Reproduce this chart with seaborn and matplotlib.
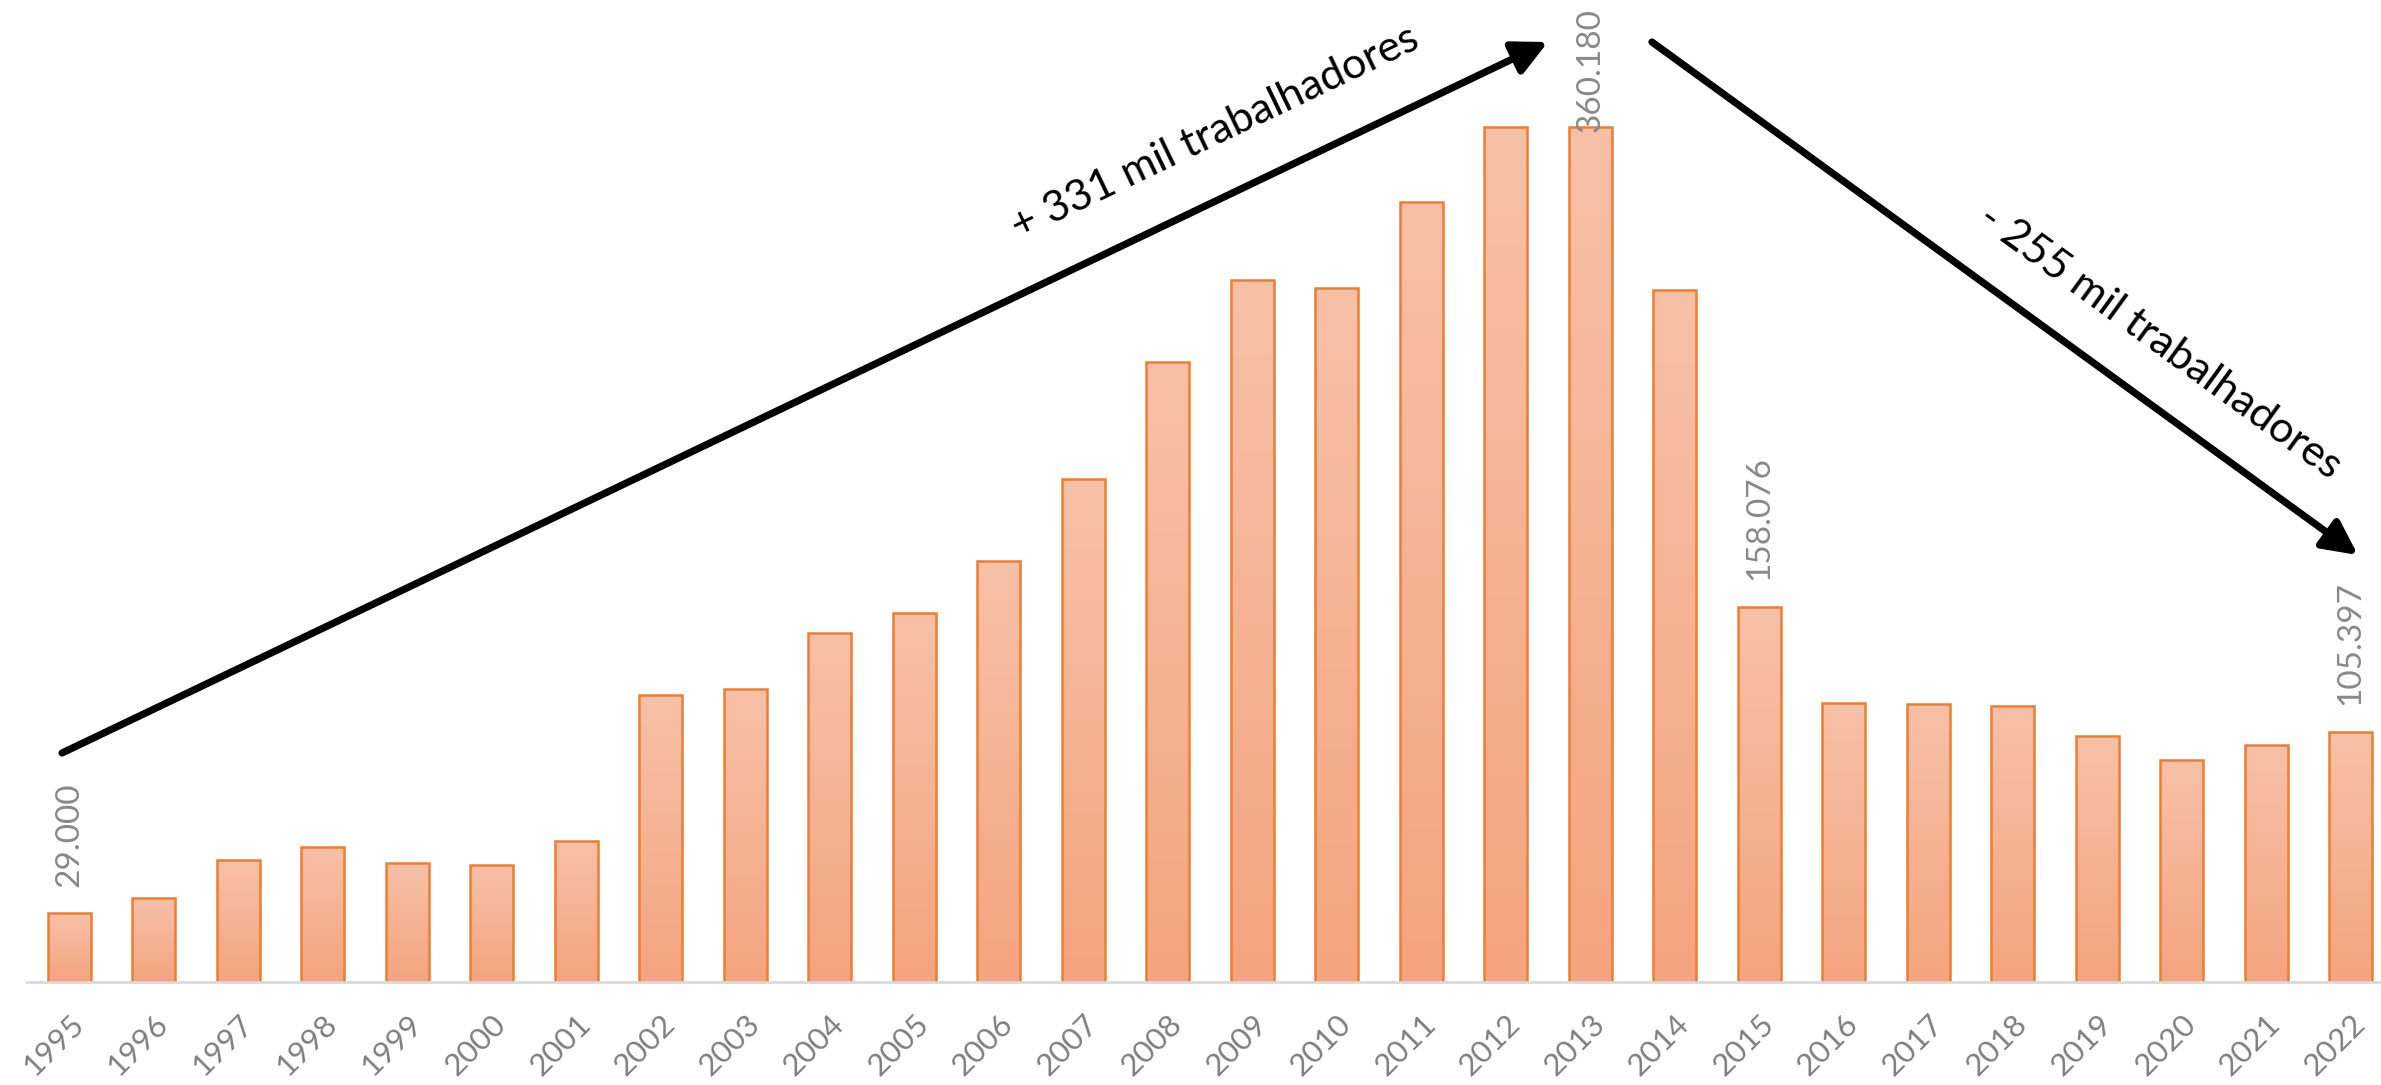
import matplotlib
matplotlib.use('Agg')
import matplotlib.pyplot as plt
from matplotlib.colors import LinearSegmentedColormap
import numpy as np
import pandas as pd
import seaborn as sns

# values
years = [1995, 1996, 1997, 1998, 1999, 2000, 2001, 2002, 2003, 2004,
         2005, 2006, 2007, 2008, 2009, 2010, 2011, 2012, 2013, 2014,
         2015, 2016, 2017, 2018, 2019, 2020, 2021, 2022]
workers = [29000, 35300, 51300, 57000, 50000, 49300, 59500, 120900, 123500, 147100,
           155500, 177200, 211800, 261000, 295600, 292400, 328800, 360400, 360180, 291700,
           158076, 117700, 117100, 116400, 103600, 93400, 99800, 105397]
labelled_years = [1995, 2013, 2015, 2022]
peak_year = 2013
up_text = '+ 331 mil trabalhadores'
down_text = '- 255 mil trabalhadores'

sns.set_style('white')
plt.rcParams['font.family'] = ['Lato', 'DejaVu Sans']

df = pd.DataFrame({'ano': [str(y) for y in years], 'trabalhadores': workers})

fig = plt.figure(figsize=(23.81, 10.85), dpi=100)
ax = fig.add_axes([27 / 2381, 103 / 1085, 1 - 27 / 2381, 982 / 1085])

sns.barplot(data=df, x='ano', y='trabalhadores', color='#F5B08F',
            width=0.51, edgecolor='#ED7D31', linewidth=1.8, ax=ax)

# vertical gradient inside each bar, like the Excel fill
grad_cmap = LinearSegmentedColormap.from_list('grad', ['#F4A47F', '#F7C1A8'])
grad = np.linspace(0, 1, 256).reshape(-1, 1)
for p in ax.patches:
    x0, w, h = p.get_x(), p.get_width(), p.get_height()
    im = ax.imshow(grad, extent=[x0, x0 + w, 0, h], origin='lower',
                   aspect='auto', cmap=grad_cmap, zorder=p.get_zorder() - 0.1)
    im.set_clip_path(p)
    p.set_facecolor('none')

ax.set_xlim(-0.5, 27.36)
ax.set_ylim(0, 413700)

# value labels on selected bars
for i, (yr, v) in enumerate(zip(years, workers)):
    if yr in labelled_years:
        off = -3.6 if yr == peak_year else 19
        ax.annotate(f'{v:,}'.replace(',', '.'), xy=(i, v), xytext=(0, off),
                    textcoords='offset points', rotation=90, ha='center',
                    va='bottom', fontsize=24, color='#898989')

# trend arrows and captions
arrow = dict(arrowstyle='-|>', lw=5.2, color='black', mutation_scale=52,
             shrinkA=0, shrinkB=0)
ax.annotate('', xy=(0.6461, 0.9572), xytext=(0.0149, 0.2332),
            xycoords='axes fraction', arrowprops=arrow)
ax.annotate('', xy=(0.9902, 0.4348), xytext=(0.6903, 0.9572),
            xycoords='axes fraction', arrowprops=arrow)
ax.text(0.5047, 0.8646, up_text, transform=ax.transAxes, rotation=25.6,
        rotation_mode='anchor', ha='center', va='center', fontsize=31, color='black')
ax.text(0.9061, 0.6517, down_text, transform=ax.transAxes, rotation=-36,
        rotation_mode='anchor', ha='center', va='center', fontsize=31, color='black')

ax.set_xlabel('')
ax.set_ylabel('')
ax.set_yticks([])
ax.tick_params(axis='x', length=0, pad=20, labelsize=22.5, labelcolor='#7F7F7F')
for lbl in ax.get_xticklabels():
    lbl.set_rotation(45)
    lbl.set_ha('right')
    lbl.set_va('top')
    lbl.set_rotation_mode('anchor')

for s in ['top', 'right', 'left']:
    ax.spines[s].set_visible(False)
ax.spines['bottom'].set_color('#D9D9D9')
ax.spines['bottom'].set_linewidth(2)

fig.savefig('out.png', dpi=100)
